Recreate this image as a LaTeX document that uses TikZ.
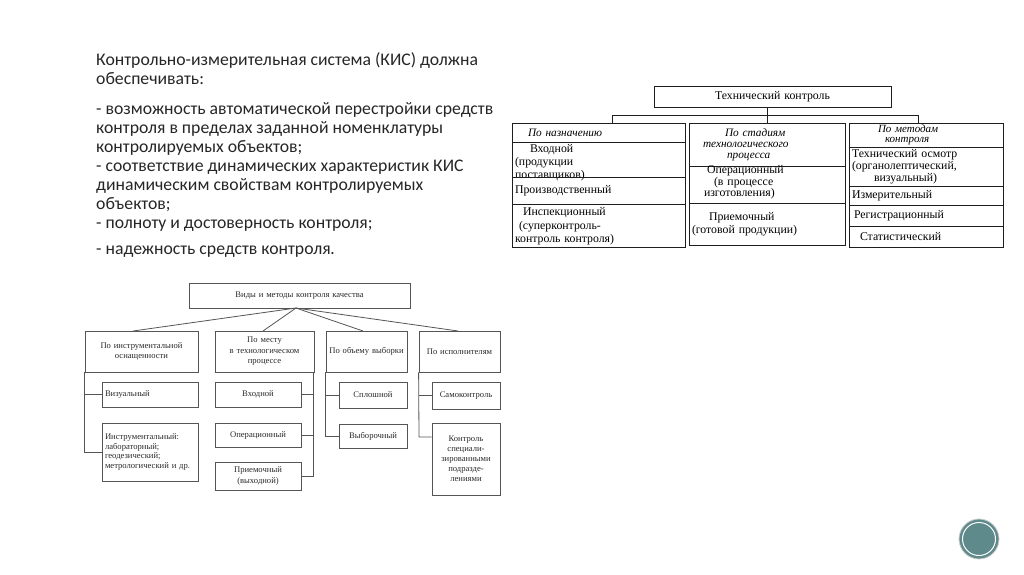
\documentclass[tikz,border=0pt]{standalone}
\usepackage{fontspec}
\setmainfont{Liberation Serif}
\newfontfamily\calib{Carlito}
\definecolor{tline}{HTML}{1E1E1E}
\definecolor{bline}{HTML}{555555}
\definecolor{btext}{HTML}{2A2A2A}
\definecolor{mtext}{HTML}{262626}
\definecolor{logo}{HTML}{5E8A8C}
% name, x1, y1, x2, y2, frame style, text style, text
\newcommand\cellbox[8]{%
  \pgfmathsetmacro\bw{#4-#2}\pgfmathsetmacro\bh{#5-#3}%
  \pgfmathsetmacro\bx{(#2+#4)/2}\pgfmathsetmacro\by{(#3+#5)/2}%
  \pgfmathsetmacro\tw{#4-#2-6}%
  \node[minimum width=\bw pt, minimum height=\bh pt, inner sep=0pt, #6] (#1) at (\bx,\by) {};
  \node[text width=\tw pt, inner xsep=3pt, inner ysep=0pt, #7] (#1t) at (#1.center) {#8};}
\begin{document}
\begin{tikzpicture}[x=1pt,y=-1pt,
  tframe/.style={draw=tline, line width=0.6pt},
  bframe/.style={draw=bline, line width=0.8pt},
  ttext/.style={align=left, font=\fontsize{11.8}{12.5}\selectfont, text=black},
  tital/.style={align=left, font=\fontsize{11.3}{11}\selectfont\itshape, text=black},
  btext/.style={align=center, font=\fontsize{8.6}{10.5}\selectfont, text=btext},
  tconn/.style={draw=tline, line width=0.6pt},
  bconn/.style={draw=bline, line width=0.8pt},
  mline/.style={anchor=base west, inner sep=0pt, text=mtext, font=\calib\fontsize{17.7}{19}\selectfont, align=left}]
\fill[white] (0,0) rectangle (1024,574);
\useasboundingbox (0,0) rectangle (1024,574);

% ---------- main text (base = last line) ----------
\node[mline] (p1) at (96,84) {Контрольно-измерительная система (КИС) должна\\обеспечивать:};
\node[mline] (p2) at (96,228) {- возможность автоматической перестройки средств\\контроля в пределах заданной номенклатуры\\контролируемых объектов;\\- соответствие динамических характеристик КИС\\динамическим свойствам контролируемых\\объектов;\\- полноту и достоверность контроля;};
\node[mline] (p3) at (96,254) {- надежность средств контроля\textbf{\Large .}};

% ---------- top diagram ----------
\cellbox{T}{654}{86}{891}{107}{tframe}{ttext, align=center}{Технический контроль}
\cellbox{L0}{512}{123}{685}{142}{tframe}{tital}{\hspace*{13pt}По назначению}
\cellbox{L1}{512}{142}{685}{177}{tframe}{ttext, font=\fontsize{11.8}{13}\selectfont, yshift=-3pt}{\hspace*{15pt}Входной\\(продукции\\поставщиков)}
\cellbox{L2}{512}{177}{685}{204}{tframe}{ttext}{Производственный}
\cellbox{L3}{512}{204}{685}{247}{tframe}{ttext, font=\fontsize{11.8}{13.3}\selectfont, yshift=-1pt}{\hspace*{8pt}Инспекционный\\\hspace*{4pt}(суперконтроль-\\контроль контроля)}
\cellbox{M0}{689}{123}{845}{166}{tframe}{tital}{\hspace*{33pt}По стадиям\\\hspace*{11pt}технологического\\\hspace*{35pt}процесса}
\cellbox{M1}{689}{166}{845}{203}{tframe}{ttext, font=\fontsize{11.8}{10.5}\selectfont, yshift=2pt}{\hspace*{15pt}Операционный\\\hspace*{22pt}(в процессе\\\hspace*{12pt}изготовления)}
\cellbox{M2}{689}{203}{845}{245}{tframe}{ttext, inner xsep=1pt, font=\fontsize{11.8}{13.3}\selectfont}{\hspace*{17pt}Приемочный\\(готовой продукции)}
\cellbox{R0}{849}{123}{1003}{147}{tframe}{tital, font=\fontsize{11}{9.5}\selectfont\itshape}{\hspace*{26pt}По методам\\\hspace*{33pt}контроля}
\cellbox{R1}{849}{147}{1003}{186}{tframe}{ttext, font=\fontsize{11.8}{12}\selectfont}{Технический осмотр\\(органолептический,\\\hspace*{22pt}визуальный)}
\cellbox{R2}{849}{186}{1003}{205}{tframe}{ttext}{Измерительный}
\cellbox{R3}{849}{205}{1003}{226}{tframe}{ttext}{\hspace*{2pt}Регистрационный}
\cellbox{R4}{849}{226}{1003}{247}{tframe}{ttext}{\hspace*{8pt}Статистический}

\coordinate (hl) at (612,115);
\coordinate (hr) at (918,115);
\draw[tconn] (T.south -| M0.north) -- (M0.north);
\draw[tconn] (hl) -- (hr);
\draw[tconn] (hl) -- (hl |- L0.north);
\draw[tconn] (hr) -- (hr |- R0.north);

% ---------- bottom diagram ----------
\cellbox{V}{189}{283}{410}{308}{bframe}{btext}{Виды и методы контроля качества}
\cellbox{B1}{85}{331}{198}{372}{bframe}{btext}{По инструментальной\\оснащенности}
\cellbox{B2}{215}{331}{314}{372}{bframe}{btext}{По месту\\в технологическом\\процессе}
\cellbox{B3}{326}{331}{407}{372}{bframe}{btext}{По объему выборки}
\cellbox{B4}{419}{331}{500}{372}{bframe}{btext}{По исполнителям}
\cellbox{C11}{102}{382}{198}{407}{bframe}{btext, align=left}{Визуальный}
\cellbox{C12}{102}{423}{198}{481}{bframe}{btext, align=left, font=\fontsize{8.6}{9.8}\selectfont}{Инструментальный:\\лабораторный;\\геодезический;\\метрологический и др.}
\cellbox{C21}{215}{382}{301}{407}{bframe}{btext}{Входной}
\cellbox{C22}{215}{423}{301}{447}{bframe}{btext}{Операционный}
\cellbox{C23}{215}{462}{301}{490}{bframe}{btext}{Приемочный\\(выходной)}
\cellbox{C31}{339}{382}{407}{408}{bframe}{btext}{Сплошной}
\cellbox{C32}{339}{424}{407}{448}{bframe}{btext}{Выборочный}
\cellbox{C41}{432}{382}{500}{409}{bframe}{btext}{Самоконтроль}
\cellbox{C42}{432}{423}{500}{495}{bframe}{btext, font=\fontsize{8.6}{10}\selectfont}{Контроль\\специали-\\зированными\\подразде-\\лениями}

\coordinate (fan) at (296,308);
\coordinate (f1) at (133,331);
\coordinate (f2) at (263,331);
\coordinate (f3) at (363,331);
\coordinate (f4) at (458,331);
\foreach \f in {f1,f2,f3,f4} \draw[bconn] (fan) -- (\f);

\draw[bconn] (B1.south west) |- (C12.west);
\draw[bconn] (C11.west) -- (C11.west -| B1.south west);
\coordinate (k2) at (313,372);
\draw[bconn] (k2) |- (C23.east);
\draw[bconn] (C21.east) -- (C21.east -| k2);
\draw[bconn] (C22.east) -- (C22.east -| k2);
\draw[bconn] (B3.south west) |- (C32.west);
\draw[bconn] (C31.west) -- (C31.west -| B3.south west);
\coordinate (k4) at (419,437);
\draw[bconn] (B4.south west) -- (k4) -- (k4 -| C42.west);
\draw[bconn] (C41.west) -- (C41.west -| B4.south west);

% ---------- logo ----------
\node[circle, fill=logo, draw=gray!40, line width=0.8pt, minimum size=40pt, inner sep=0pt] (lg) at (979,539) {};
\draw[white, line width=1pt] (lg.center) circle (16.5);
\end{tikzpicture}
\end{document}
